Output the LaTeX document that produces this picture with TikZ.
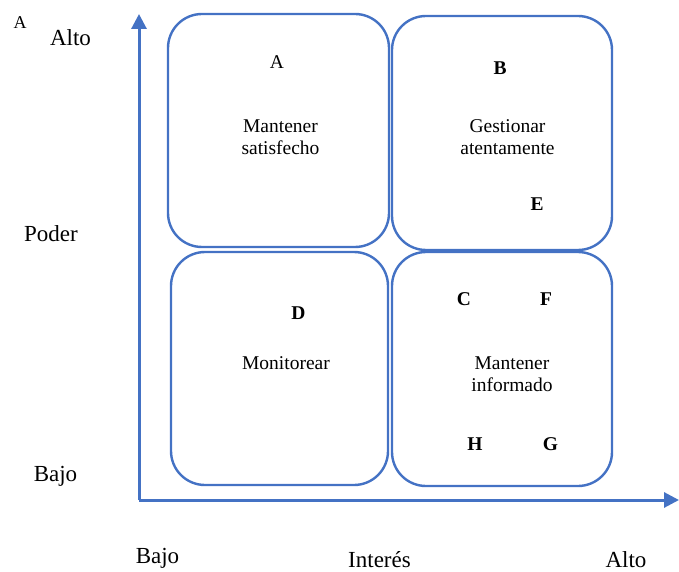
\documentclass[tikz,border=0pt]{standalone}
\usepackage{fontspec}
\setmainfont{Liberation Serif}
\usetikzlibrary{arrows.meta}
\definecolor{axisblue}{RGB}{68,114,196}
\begin{document}
\begin{tikzpicture}[x=1pt,y=-1pt,
  quad/.style={draw=axisblue, line width=2.4pt, rounded corners=34pt, inner sep=0pt},
  axisline/.style={draw=axisblue, line width=3pt, line join=miter, -{Triangle[width=15pt,length=15pt]}},
  boxtext/.style={font=\fontsize{19.5}{22}\selectfont, align=center, inner sep=0pt},
  tag/.style={font=\fontsize{19.5}{22}\selectfont\bfseries, anchor=base, inner sep=0pt},
  axislabel/.style={font=\fontsize{23}{27}\selectfont, anchor=base, inner sep=0pt}]
  \useasboundingbox (0,0) rectangle (679,572);

  % quadrants
  \node[quad, minimum width=221pt, minimum height=233pt] (qA) at (278.5,130.5) {};
  \node[quad, minimum width=220pt, minimum height=234pt] (qB) at (502,133) {};
  \node[quad, minimum width=217pt, minimum height=233pt] (qD) at (279.5,368.5) {};
  \node[quad, minimum width=220pt, minimum height=234pt] (qC) at (502,369) {};

  % axes
  \coordinate (origin) at (139,500);
  \coordinate (ytip) at (139,14);
  \coordinate (xtip) at (679,500);
  \draw[axisline] (origin) -- (ytip);
  \draw[axisline] (origin) -- (xtip);

  % axis labels
  \node[font=\fontsize{18}{20}\selectfont, anchor=base, inner sep=0pt] (corner) at (20,29) {A};
  \node[axislabel] (yhigh) at (70.5,46) {Alto};
  \node[axislabel] (ytitle) at (51,241) {Poder};
  \node[axislabel] (ylow) at (55.5,481) {Bajo};
  \node[axislabel] (xlow) at (157.5,563) {Bajo};
  \node[axislabel] (xtitle) at (379.5,567) {Interés};
  \node[axislabel] (xhigh) at (626,567) {Alto};

  % quadrant contents
  \node[font=\fontsize{19.5}{22}\selectfont, anchor=base, inner sep=0pt] (sA) at (277,68.5) {A};
  \node[boxtext] (tA) at (280.5,137.5) {Mantener\\satisfecho};

  \node[tag] (sB) at (500,74.5) {B};
  \node[boxtext] (tB) at (507.5,137.5) {Gestionar\\atentamente};
  \node[tag] (sE) at (537,210.5) {E};

  \node[tag] (sD) at (298.5,319) {D};
  \node[boxtext, anchor=base] (tD) at (286,369) {Monitorear};

  \node[tag] (sC) at (464,305) {C};
  \node[tag] (sF) at (546,305) {F};
  \node[boxtext] (tC) at (512,374.5) {Mantener\\informado};
  \node[tag] (sH) at (475,450) {H};
  \node[tag] (sG) at (550.5,450) {G};
\end{tikzpicture}
\end{document}
